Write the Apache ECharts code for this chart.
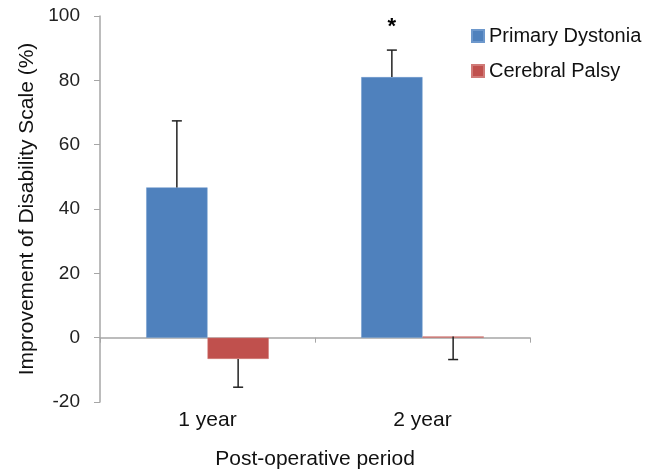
<!DOCTYPE html>
<html>
<head>
<meta charset="utf-8">
<script src="https://cdn.jsdelivr.net/npm/echarts@6/dist/echarts.min.js"></script>
<style>html,body{margin:0;padding:0;background:#fff}#chart{width:654px;height:471px}</style>
</head>
<body>
<div id="chart"></div>
<script>
// Improvement of disability scale by post-operative period
const categories = ['1 year', '2 year'];
const seriesNames = ['Primary Dystonia', 'Cerebral Palsy'];
const dystoniaMean = [46.7, 81.0];
const dystoniaErr = [20.7, 8.4];   // drawn upward
const palsyMean = [-6.6, 0.4];
const palsyErr = [8.8, 7.2];       // drawn downward
const dystoniaSig = ['', '*'];
const yTicks = { min: -20, max: 100, interval: 20 };

const FONT = 'Liberation Sans, Arial, sans-serif';
const BLUE = '#4F81BD';
const RED = '#C0504D';
const AXIS = '#A6A6A6';

// error bar items: [categoryIndex, mean, signedError, seriesSlot, marker]
function renderErr(params, api) {
  const ci = api.value(0);
  const mean = api.value(1);
  const err = api.value(2);
  const slot = api.value(3);
  const mark = api.value(4);
  const band = api.size([1, 0])[0];
  const barW = band * 0.57 / 2;
  const center = api.coord([ci, 0])[0];
  const x = center + (slot === 0 ? -barW / 2 : barW / 2);
  const y0 = api.coord([ci, mean])[1];
  const y1 = api.coord([ci, mean + err])[1];
  const cap = 5;
  const children = [
    { type: 'line', shape: { x1: x, y1: y0, x2: x, y2: y1 }, style: { stroke: '#222', lineWidth: 1.5 } },
    { type: 'line', shape: { x1: x - cap, y1: y1, x2: x + cap, y2: y1 }, style: { stroke: '#222', lineWidth: 1.5 } }
  ];
  if (mark) {
    children.push({ type: 'text', style: { text: mark, x: x, y: y1 - 23, align: 'center', verticalAlign: 'middle', font: 'bold 22px ' + FONT, fill: '#000' } });
  }
  return { type: 'group', children: children };
}

const chart = echarts.init(document.getElementById('chart'), null, { renderer: 'canvas' });
chart.setOption({
  animation: false,
  backgroundColor: '#fff',
  grid: { left: 100, right: 124, top: 16, bottom: 69, containLabel: false, outerBoundsMode: 'none' },
  legend: {
    orient: 'vertical',
    left: 466,
    top: 21,
    itemWidth: 12,
    itemHeight: 12,
    itemGap: 15,
    icon: 'rect',
    textStyle: { fontFamily: FONT, fontSize: 20, color: '#111' },
    data: seriesNames
  },
  xAxis: {
    type: 'category',
    data: categories,
    axisLine: { onZero: true, lineStyle: { color: AXIS, width: 1.5 } },
    axisTick: { show: true, length: 5, lineStyle: { color: AXIS } },
    axisLabel: { margin: 8, fontFamily: FONT, fontSize: 21, color: '#111' },
    name: 'Post-operative period',
    nameLocation: 'middle',
    nameGap: 47,
    nameTextStyle: { fontFamily: FONT, fontSize: 21, color: '#111' }
  },
  yAxis: {
    type: 'value',
    min: yTicks.min,
    max: yTicks.max,
    interval: yTicks.interval,
    splitLine: { show: false },
    axisLine: { show: true, lineStyle: { color: AXIS, width: 1.5 } },
    axisTick: { show: true, inside: false, length: 6, lineStyle: { color: AXIS } },
    axisLabel: { margin: 20, fontFamily: FONT, fontSize: 19, color: '#222' },
    name: 'Improvement of Disability Scale (%)',
    nameLocation: 'middle',
    nameGap: 62,
    nameTextStyle: { fontFamily: FONT, fontSize: 21, color: '#111' }
  },
  series: [
    {
      name: seriesNames[0], type: 'bar', data: dystoniaMean,
      barGap: '0%', barCategoryGap: '43%',
      itemStyle: { color: BLUE, borderColor: '#6d98cc', borderWidth: 0.5 }
    },
    {
      name: seriesNames[1], type: 'bar', data: palsyMean,
      itemStyle: { color: RED, borderColor: '#d07a77', borderWidth: 0.5 }
    },
    {
      type: 'custom', renderItem: renderErr, z: 5, silent: true,
      encode: { x: 0, y: 1 },
      data: dystoniaMean.map((m, i) => [i, m, dystoniaErr[i], 0, dystoniaSig[i]])
    },
    {
      type: 'custom', renderItem: renderErr, z: 5, silent: true,
      encode: { x: 0, y: 1 },
      data: palsyMean.map((m, i) => [i, m, -palsyErr[i], 1, ''])
    }
  ]
});
</script>
</body>
</html>
